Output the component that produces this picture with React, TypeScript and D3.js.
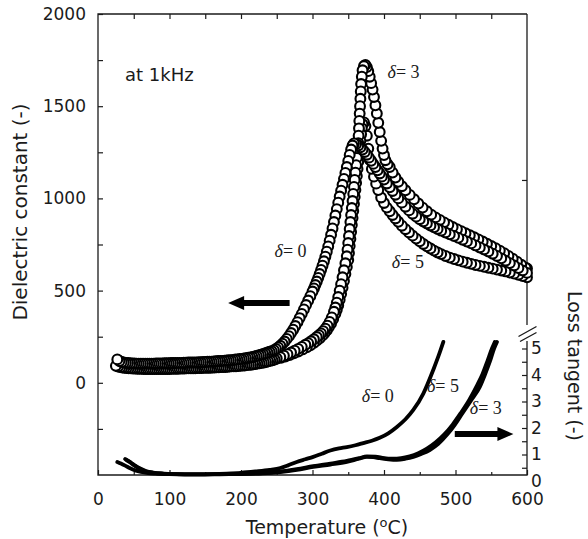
import React, { useEffect, useRef } from "react";
import * as d3 from "d3";

type Pt = [number, number];

// dielectric constant at 1 kHz, [temperature (°C), value]
const eps0: Pt[] = [
  [27, 127], [30, 118], [33, 113], [36, 110], [39, 108], [42, 107], [45, 106], [48, 105], [51, 105], [54, 104],
  [57, 104], [60, 104], [63, 104], [66, 104], [69, 104], [72, 104], [75, 104], [78, 104], [81, 105], [84, 105],
  [87, 105], [90, 105], [93, 106], [96, 106], [99, 106], [102, 107], [105, 107], [108, 107], [111, 108], [114, 108],
  [117, 108], [120, 109], [123, 109], [126, 110], [129, 110], [132, 110], [135, 111], [138, 111], [141, 112], [144, 112],
  [147, 113], [150, 113], [153, 114], [156, 115], [159, 115], [162, 116], [165, 117], [168, 118], [171, 118], [174, 119],
  [177, 120], [180, 121], [183, 122], [186, 123], [189, 124], [192, 126], [195, 127], [198, 129], [201, 130], [204, 132],
  [207, 134], [210, 136], [213, 138], [216, 140], [219, 143], [222, 146], [225, 149], [228, 152], [231, 156], [234, 160],
  [237, 164], [240, 168], [243, 172], [246, 177], [249, 184],
  [252, 192], [255, 201], [258, 212], [261, 224], [264, 238], [267, 253], [270, 270], [273, 288], [276, 308], [279, 329],
  [282, 351], [285, 374], [288, 398], [291, 422], [294, 446], [297, 470], [300, 495], [302, 512], [304, 530], [306, 549],
  [308, 569], [310, 590], [312, 612], [314, 635], [316, 659], [318, 684], [320, 711], [322, 740], [324, 771], [326, 803],
  [328, 837], [330, 872], [332, 907], [334, 942], [336, 977], [338, 1010], [340, 1042], [342, 1074], [344, 1106], [346, 1138],
  [348, 1170], [350, 1203], [352, 1236], [354, 1265], [356, 1287], [358, 1298],
  [361, 1295], [364, 1287], [367, 1277], [370, 1265], [373, 1252], [376, 1237], [379, 1221], [382, 1204], [385, 1187], [388, 1170],
  [391, 1152], [394, 1135], [397, 1118], [400, 1102], [404, 1081], [408, 1060], [412, 1040], [416, 1020], [420, 1000], [425, 977],
  [430, 955], [435, 935], [440, 917], [445, 901], [450, 887], [455, 875], [460, 864], [465, 853], [470, 843], [475, 834],
  [480, 825], [486, 815], [492, 805], [498, 796], [504, 786], [510, 776], [516, 766], [522, 756], [528, 745], [534, 734],
  [540, 723], [546, 712], [552, 700], [558, 688], [564, 675], [570, 662], [576, 649], [582, 636], [588, 622], [594, 609],
  [600, 596],
];

const eps3: Pt[] = [
  [25, 92], [28, 88], [31, 85], [34, 83], [37, 81], [40, 80], [43, 79], [46, 78], [49, 77], [52, 77],
  [55, 76], [58, 76], [61, 76], [64, 75], [67, 75], [70, 75], [73, 75], [76, 75], [79, 75], [82, 75],
  [85, 75], [88, 75], [91, 75], [94, 75], [97, 75], [100, 75], [103, 76], [106, 76], [109, 76], [112, 76],
  [115, 77], [118, 77], [121, 77], [124, 78], [127, 78], [130, 78], [133, 79], [136, 79], [139, 80], [142, 80],
  [145, 80], [148, 81], [151, 81], [154, 82], [157, 82], [160, 83], [163, 83], [166, 84], [169, 84], [172, 85],
  [175, 86], [178, 86], [181, 87], [184, 88], [187, 89], [190, 89], [193, 90], [196, 91], [199, 92], [202, 93],
  [205, 94], [208, 96], [211, 97], [214, 98], [217, 100], [220, 102], [223, 104], [226, 106], [229, 108], [232, 110],
  [235, 113], [238, 116], [241, 119], [244, 122], [247, 126],
  [250, 132], [255, 139], [260, 147], [265, 155], [270, 164], [275, 174], [280, 184], [285, 195], [290, 206], [294, 215],
  [298, 225], [302, 236], [306, 248], [309, 258], [312, 268], [315, 280], [318, 294], [321, 310], [324, 330], [327, 355],
  [330, 385], [332, 408], [334, 435], [336, 465], [338, 500], [340, 535], [342, 572], [344, 610], [346, 648], [348, 686],
  [349, 722], [350, 758], [351, 796], [352, 834], [353, 872], [354, 910], [355, 948], [356, 986], [357, 1024], [358, 1062],
  [359, 1100], [360, 1140], [361, 1180], [362, 1220], [363, 1260], [364, 1300], [364.5, 1340], [365, 1380], [365.5, 1420], [366, 1460],
  [366.5, 1500], [367, 1540], [367.5, 1580], [368, 1620], [369, 1660], [370, 1695], [372, 1718], [374, 1724], [376, 1712], [378, 1690],
  [380, 1660], [382, 1625], [384, 1590], [386, 1550], [388, 1505], [390, 1460], [392, 1410], [394, 1360], [396, 1312], [398, 1270],
  [400, 1235], [402, 1207], [405, 1185],
  [408, 1170], [412, 1140], [416, 1113], [420, 1090], [425, 1066], [430, 1044], [436, 1019], [442, 995], [448, 972], [454, 950],
  [460, 930], [466, 912], [472, 897], [478, 883], [484, 870], [490, 857], [496, 845], [502, 833], [508, 822], [514, 811],
  [520, 800], [526, 789], [532, 778], [538, 766], [544, 754], [550, 742], [556, 730], [562, 717], [568, 703], [574, 688],
  [580, 673], [586, 657], [592, 640], [598, 624], [600, 620],
];

const eps5: Pt[] = [
  [30, 104], [33, 99], [36, 96], [39, 94], [42, 92], [45, 91], [48, 90], [51, 89], [54, 89], [57, 88],
  [60, 88], [63, 88], [66, 88], [69, 87], [72, 87], [75, 87], [78, 87], [81, 87], [84, 87], [87, 88],
  [90, 88], [93, 88], [96, 88], [99, 88], [102, 89], [105, 89], [108, 89], [111, 89], [114, 90], [117, 90],
  [120, 90], [123, 91], [126, 91], [129, 91], [132, 92], [135, 92], [138, 92], [141, 93], [144, 93], [147, 94],
  [150, 94], [153, 95], [156, 95], [159, 96], [162, 96], [165, 97], [168, 97], [171, 98], [174, 99], [177, 99],
  [180, 100], [183, 101], [186, 102], [189, 103], [192, 104], [195, 105], [198, 106], [201, 107], [204, 108], [207, 109],
  [210, 110], [213, 111], [216, 112], [219, 114], [222, 115], [225, 117], [228, 118], [231, 120], [234, 122], [237, 124],
  [240, 126], [243, 128], [246, 129],
  [250, 131], [256, 136], [262, 143], [268, 151], [274, 160], [280, 170], [286, 181], [292, 193], [297, 204], [302, 217],
  [306, 229], [310, 242], [314, 257], [317, 270], [320, 285], [323, 302], [326, 322], [329, 346], [332, 374], [334, 396],
  [336, 421], [338, 450], [340, 482], [342, 516], [344, 552], [346, 590], [348, 628], [350, 666], [351, 704], [352, 742],
  [353, 780], [354, 818], [355, 856], [356, 894], [357, 932], [358, 970], [359, 1008], [360, 1046], [361, 1084], [362, 1122],
  [363, 1160], [364, 1198], [365, 1236], [366, 1274], [367, 1312], [368, 1348], [369, 1380], [370, 1402], [372, 1412], [374, 1392],
  [376, 1340], [378, 1270], [380, 1210], [383, 1160], [386, 1118], [389, 1080], [392, 1045], [396, 1005], [400, 975], [404, 950],
  [408, 930], [412, 910], [416, 891], [420, 873], [425, 852], [430, 833], [435, 815], [440, 798], [445, 782], [450, 767],
  [455, 753], [460, 740], [465, 728], [470, 717], [475, 707], [480, 698], [486, 688], [492, 679], [498, 671], [504, 664],
  [510, 657], [516, 651], [522, 645], [528, 639], [534, 634], [540, 629], [546, 624], [552, 619], [558, 614], [564, 609],
  [570, 604], [576, 598], [582, 592], [588, 586], [594, 579], [600, 572],
];

// loss tangent, [temperature (°C), value]
const tan0: Pt[] = [
  [27, 0.72], [32, 0.66], [38, 0.58], [45, 0.48], [52, 0.4], [60, 0.34], [70, 0.3], [80, 0.28], [100, 0.26], [120, 0.25],
  [140, 0.25], [160, 0.26], [180, 0.28], [200, 0.31], [220, 0.36], [240, 0.42], [255, 0.49], [265, 0.58], [278, 0.72], [290, 0.82],
  [301, 0.91], [313, 1.03], [325, 1.15], [337, 1.23], [348, 1.28], [360, 1.35], [371, 1.43], [383, 1.52], [394, 1.63], [406, 1.8],
  [418, 2.04], [430, 2.33], [441, 2.68], [455, 3.3], [469, 4.2], [476, 4.7], [483, 5.25],
];
const tan3: Pt[] = [
  [38, 0.83], [44, 0.72], [50, 0.6], [57, 0.48], [65, 0.38], [75, 0.32], [90, 0.28], [110, 0.26], [130, 0.25], [150, 0.25],
  [170, 0.25], [190, 0.26], [210, 0.27], [230, 0.29], [255, 0.34], [278, 0.42], [301, 0.53], [325, 0.62], [348, 0.72], [365, 0.84],
  [376, 0.91], [385, 0.9], [394, 0.86], [406, 0.82], [418, 0.8], [430, 0.84], [441, 0.91], [452, 1.02], [464, 1.17], [476, 1.4],
  [488, 1.74], [499, 2.12], [510, 2.57], [522, 3.05], [534, 3.55], [541, 4.0], [548, 4.5], [554, 5.0], [558, 5.25],
];
const tan5: Pt[] = [
  [40, 0.8], [46, 0.7], [52, 0.58], [59, 0.47], [67, 0.38], [77, 0.32], [92, 0.28], [110, 0.26], [130, 0.25], [150, 0.25],
  [170, 0.26], [190, 0.27], [210, 0.28], [230, 0.3], [255, 0.36], [278, 0.45], [301, 0.56], [325, 0.66], [348, 0.76], [365, 0.86],
  [376, 0.93], [388, 0.92], [400, 0.86], [412, 0.84], [424, 0.86], [436, 0.93], [448, 1.05], [460, 1.22], [472, 1.45], [484, 1.75],
  [496, 2.13], [507, 2.55], [519, 3.05], [530, 3.6], [538, 4.05], [545, 4.55], [551, 5.0], [555, 5.25],
];

const xMajorTicks = [0, 100, 200, 300, 400, 500, 600];
const xMinorTicks = [50, 150, 250, 350, 450, 550];
const topTicks = [50, 100, 150, 200, 250, 300, 350, 400, 450, 500, 550];
const epsTicks = [-250, 0, 250, 500, 750, 1000, 1250, 1500, 1750, 2000];
const rightEpsTicks = [1100];
const tanTicks = [0, 0.5, 1, 1.5, 2, 2.5, 3, 3.5, 4, 4.5, 5];

// delta labels: [temperature, value, text], upper ones on dielectric scale, lower on loss scale
const epsLabels: [number, number, string][] = [
  [405, 1655, "3"],
  [247, 680, "0"],
  [411, 620, "5"],
];
const tanLabels: [number, number, string][] = [
  [369, 2.98, "0"],
  [460, 3.36, "5"],
  [520, 2.53, "3"],
];
// arrows: [from T, to T, level]
const epsArrow: [number, number, number] = [268, 182, 433];
const tanArrow: [number, number, number] = [499, 581, 1.77];

const W = 588;
const H = 539;
const X0 = 98;
const X1 = 527;
const Y0 = 14;
const Y1 = 475;

export default function App() {
  const ref = useRef<SVGSVGElement>(null);

  useEffect(() => {
    const svg = d3.select(ref.current);
    svg.selectAll("*").remove();

    const ink = "#1b1b1b";
    const sans = "'DejaVu Sans', Arial, sans-serif";
    const serif = "'Liberation Serif', 'Times New Roman', serif";

    const x = d3.scaleLinear().domain([0, 600]).range([X0, X1]);
    const yE = d3.scaleLinear().domain([-500, 2000]).range([Y1, Y0]);
    const yT = d3.scaleLinear().domain([0, 5]).range([481, 348.5]);

    const styleAxis = (g: any) => {
      g.select(".domain").remove();
      g.selectAll("line").attr("stroke", ink).attr("stroke-width", 1.2);
      g.selectAll("text").attr("font-family", sans).attr("font-size", 17).attr("fill", ink);
    };

    // bottom axis
    svg.append("g").attr("transform", `translate(0,${Y1})`)
      .call(d3.axisBottom(x).tickValues(xMinorTicks).tickSizeInner(-3).tickSizeOuter(0).tickFormat(() => ""))
      .call(styleAxis);
    svg.append("g").attr("transform", `translate(0,${Y1})`)
      .call(d3.axisBottom(x).tickValues(xMajorTicks).tickSizeInner(-5).tickSizeOuter(0).tickPadding(18).tickFormat(d3.format("d")))
      .call(styleAxis);
    // top axis
    svg.append("g").attr("transform", `translate(0,${Y0})`)
      .call(d3.axisTop(x).tickValues(topTicks).tickSizeInner(-5).tickSizeOuter(0).tickFormat(() => ""))
      .call(styleAxis);
    // left axis
    svg.append("g").attr("transform", `translate(${X0},0)`)
      .call(d3.axisLeft(yE).tickValues(epsTicks).tickSizeInner(-5).tickSizeOuter(0).tickPadding(12)
        .tickFormat((d: any) => (d >= 0 && d % 500 === 0 ? String(d) : "")))
      .call(styleAxis);
    // right axis, dielectric part
    svg.append("g").attr("transform", `translate(${X1},0)`)
      .call(d3.axisRight(yE).tickValues(rightEpsTicks).tickSizeInner(-5).tickSizeOuter(0).tickFormat(() => ""))
      .call(styleAxis);
    // right axis, loss tangent part
    const ra = svg.append("g").attr("transform", `translate(${X1},0)`)
      .call(d3.axisRight(yT).tickValues(tanTicks).tickSizeInner(-5).tickSizeOuter(0).tickPadding(4)
        .tickFormat((d: any) => (Number.isInteger(d) ? String(d) : "")))
      .call(styleAxis);
    ra.selectAll(".tick").filter((d: any) => d === 0).select("line").remove();

    // frame
    const frame = svg.append("g").attr("stroke", ink).attr("stroke-width", 1.3).attr("fill", "none");
    frame.append("path").attr("d", `M${X1},${Y0}H${X0}V${Y1}H${X1}V341`);
    frame.append("path").attr("d", `M${X1},${Y0}V325`);
    frame.append("path").attr("d", `M518.5,336.5L536.5,326.5M520,341.5L536.5,332.5`).attr("stroke-width", 1.4);

    // loss tangent curves
    const line = d3.line<Pt>().x((d) => x(d[0])).y((d) => yT(d[1])).curve(d3.curveMonotoneX);
    svg.append("g").selectAll("path").data([tan5, tan3, tan0]).join("path")
      .attr("d", (d) => line(d))
      .attr("fill", "none")
      .attr("stroke", "#000")
      .attr("stroke-width", 3.8)
      .attr("stroke-linejoin", "round")
      .attr("stroke-linecap", "round");

    // dielectric constant markers, drawn from hot to cold
    [eps5, eps3, eps0].forEach((s) => {
      svg.append("g").selectAll("circle").data(s.slice().reverse()).join("circle")
        .attr("cx", (d) => x(d[0]))
        .attr("cy", (d) => yE(d[1]))
        .attr("r", 4.9)
        .attr("fill", "#fff")
        .attr("stroke", "#000")
        .attr("stroke-width", 2.1);
    });

    // arrows
    const arrow = (x0: number, x1: number, y: number) => {
      const dir = Math.sign(x1 - x0);
      const hl = 16;
      const hw = 7;
      const sw = 3;
      const xb = x1 - dir * hl;
      return `M${x0},${y - sw}L${xb},${y - sw}L${xb},${y - hw}L${x1},${y}L${xb},${y + hw}L${xb},${y + sw}L${x0},${y + sw}Z`;
    };
    svg.append("path").attr("d", arrow(x(epsArrow[0]), x(epsArrow[1]), yE(epsArrow[2]))).attr("fill", "#000");
    svg.append("path").attr("d", arrow(x(tanArrow[0]), x(tanArrow[1]), yT(tanArrow[2]))).attr("fill", "#000");

    // delta labels
    const addDelta = (px: number, py: number, v: string) => {
      const t = svg.append("text").attr("x", px).attr("y", py)
        .attr("font-family", serif).attr("font-size", 18).attr("fill", ink);
      t.append("tspan").attr("font-style", "italic").text("δ");
      t.append("tspan").text("= " + v);
    };
    epsLabels.forEach(([t, v, s]) => addDelta(x(t), yE(v), s));
    tanLabels.forEach(([t, v, s]) => addDelta(x(t), yT(v), s));

    svg.append("text").attr("x", 125).attr("y", 81)
      .attr("font-family", sans).attr("font-size", 18).attr("fill", ink).text("at 1kHz");

    // axis titles
    svg.append("text").attr("transform", "translate(27,212) rotate(-90)")
      .attr("text-anchor", "middle").attr("font-family", sans).attr("font-size", 20).attr("fill", ink)
      .text("Dielectric constant (-)");
    svg.append("text").attr("transform", "translate(568,366) rotate(90)")
      .attr("text-anchor", "middle").attr("font-family", sans).attr("font-size", 19).attr("fill", ink)
      .text("Loss tangent (-)");
    const xt = svg.append("text").attr("x", 327).attr("y", 534)
      .attr("text-anchor", "middle").attr("font-family", sans).attr("font-size", 19).attr("fill", ink);
    xt.append("tspan").text("Temperature (");
    xt.append("tspan").attr("font-size", 13).attr("dy", -7).text("o");
    xt.append("tspan").attr("dy", 7).text("C)");
  }, []);

  return (
    <svg
      ref={ref}
      width={W}
      height={H}
      style={{ position: "absolute", left: 0, top: 0, background: "#fff" }}
    />
  );
}
